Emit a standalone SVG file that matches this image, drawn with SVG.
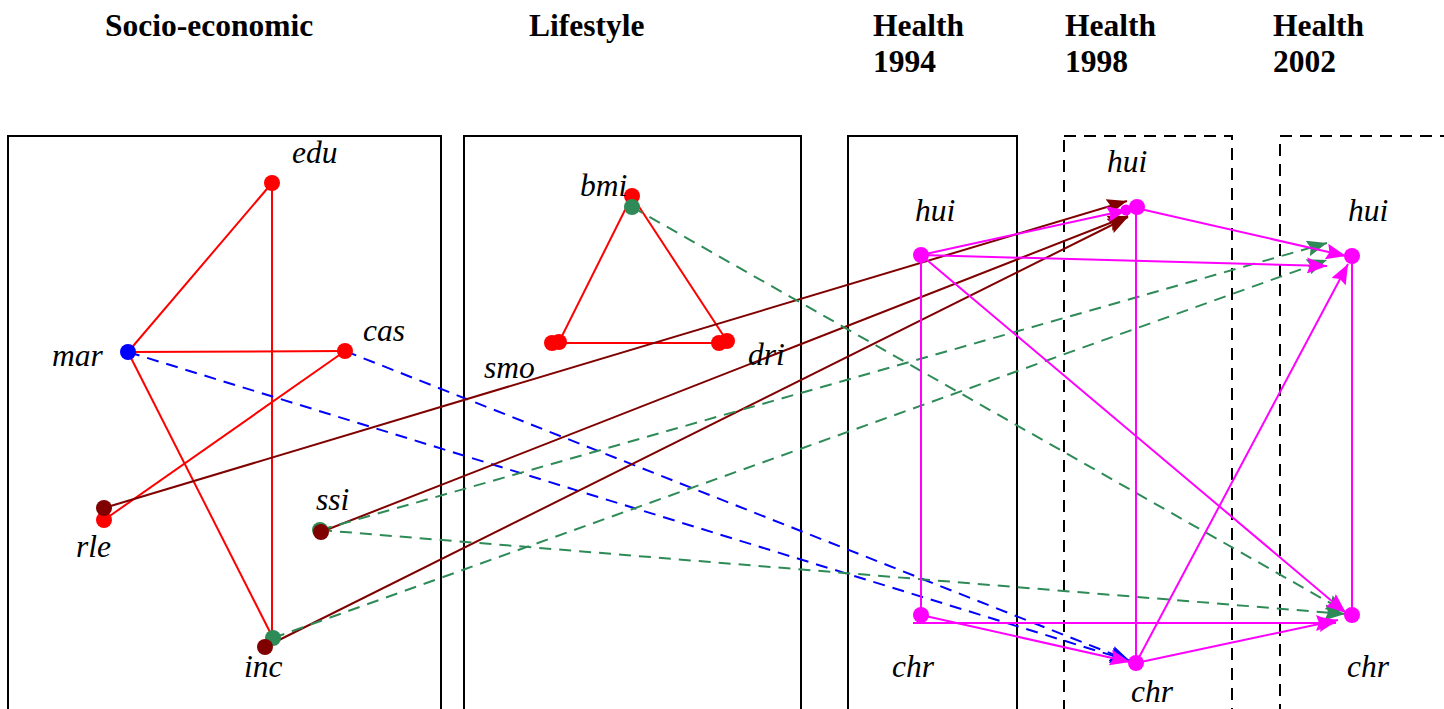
<svg xmlns="http://www.w3.org/2000/svg" width="1444" height="709" viewBox="0 0 1444 709">
  <style>
    .head { font-family: "Liberation Serif", "Times New Roman", serif; font-weight: bold; font-size: 31.5px; fill: #000; }
    .lbl { font-family: "Liberation Serif", "Times New Roman", serif; font-style: italic; font-size: 31.5px; fill: #000; }
    .box { fill: none; stroke: #000; stroke-width: 2; }
    .dbox { fill: none; stroke: #000; stroke-width: 2; stroke-dasharray: 12 8; }
    .red { stroke: #ff0000; stroke-width: 2; fill: none; }
    .mag { stroke: #ff00ff; stroke-width: 2; fill: none; }
    .drk { stroke: #800000; stroke-width: 2; fill: none; }
    .blu { stroke: #0000ff; stroke-width: 2; fill: none; stroke-dasharray: 12 8; }
    .grn { stroke: #2e8b57; stroke-width: 2; fill: none; stroke-dasharray: 12 8; }
  </style>
  <defs>
    <marker id="aMag" viewBox="0 0 20 16" refX="20" refY="8" markerWidth="20" markerHeight="16" markerUnits="userSpaceOnUse" orient="auto">
      <path d="M0,0 L20,8 L0,16 L3,8 Z" fill="#ff00ff"/>
    </marker>
    <marker id="aDrk" viewBox="0 0 20 16" refX="20" refY="8" markerWidth="20" markerHeight="16" markerUnits="userSpaceOnUse" orient="auto">
      <path d="M0,0 L20,8 L0,16 L3,8 Z" fill="#800000"/>
    </marker>
    <marker id="aBlu" viewBox="0 0 20 16" refX="20" refY="8" markerWidth="20" markerHeight="16" markerUnits="userSpaceOnUse" orient="auto">
      <path d="M0,0 L20,8 L0,16 L3,8 Z" fill="#0000ff"/>
    </marker>
    <marker id="aGrn" viewBox="0 0 20 16" refX="20" refY="8" markerWidth="20" markerHeight="16" markerUnits="userSpaceOnUse" orient="auto">
      <path d="M0,0 L20,8 L0,16 L3,8 Z" fill="#2e8b57"/>
    </marker>
  </defs>

  <rect width="1444" height="709" fill="#fff"/>

  <!-- column headings -->
  <g id="headings">
    <text class="head" x="105" y="36">Socio-economic</text>
    <text class="head" x="529" y="36">Lifestyle</text>
    <text class="head" x="873" y="36">Health</text>
    <text class="head" x="873" y="72">1994</text>
    <text class="head" x="1065" y="36">Health</text>
    <text class="head" x="1065" y="72">1998</text>
    <text class="head" x="1273" y="36">Health</text>
    <text class="head" x="1273" y="72">2002</text>
  </g>

  <!-- group frames -->
  <g id="frames">
    <rect class="box" x="8" y="136" width="433" height="600"/>
    <rect class="box" x="464" y="136" width="337" height="600"/>
    <rect class="box" x="848" y="136" width="169" height="600"/>
    <rect class="dbox" x="1064" y="136" width="168" height="600"/>
    <rect class="dbox" x="1280" y="136" width="200" height="600"/>
  </g>

  <!-- connectors -->
  <g id="connectors">
    <!-- socio-economic internal links -->
    <line class="red" x1="128" y1="352" x2="272" y2="183"/>
    <line class="red" x1="272" y1="183" x2="272" y2="640"/>
    <line class="red" x1="128" y1="352" x2="345" y2="351"/>
    <line class="red" x1="345" y1="351" x2="104" y2="520"/>
    <line class="red" x1="128" y1="352" x2="273" y2="638"/>
    <!-- lifestyle internal links -->
    <line class="red" x1="632" y1="196" x2="559" y2="342"/>
    <line class="red" x1="632" y1="196" x2="727" y2="341"/>
    <line class="red" x1="559" y1="343" x2="719" y2="343"/>

    <!-- marital / casual status to chronic 1998 -->
    <line class="blu" x1="128" y1="352" x2="1130" y2="661" marker-end="url(#aBlu)"/>
    <line class="blu" x1="345" y1="351" x2="1130" y2="661" marker-end="url(#aBlu)"/>

    <!-- socio-economic to hui 1998 -->
    <line class="drk" x1="104" y1="508" x2="1127" y2="201" marker-end="url(#aDrk)"/>
    <line class="drk" x1="321" y1="532" x2="1128" y2="216" marker-end="url(#aDrk)"/>
    <line class="drk" x1="265" y1="647" x2="1128" y2="217" marker-end="url(#aDrk)"/>

    <!-- links into health 2002 -->
    <line class="grn" x1="632" y1="207" x2="1346" y2="612" marker-end="url(#aGrn)"/>
    <line class="grn" x1="320" y1="530" x2="1327" y2="243" marker-end="url(#aGrn)"/>
    <line class="grn" x1="273" y1="638" x2="1327" y2="260" marker-end="url(#aGrn)"/>
    <line class="grn" x1="320" y1="530" x2="1345" y2="614" marker-end="url(#aGrn)"/>

    <!-- health transitions -->
    <line class="mag" x1="921" y1="255" x2="921" y2="615"/>
    <line class="mag" x1="921" y1="255" x2="1127" y2="210" marker-end="url(#aMag)"/>
    <line class="mag" x1="921" y1="255" x2="1327" y2="266" marker-end="url(#aMag)"/>
    <line class="mag" x1="921" y1="255" x2="1346" y2="613" marker-end="url(#aMag)"/>
    <line class="mag" x1="921" y1="615" x2="1130" y2="662" marker-end="url(#aMag)"/>
    <line class="mag" x1="913" y1="623" x2="1336" y2="623" marker-end="url(#aMag)"/>
    <line class="mag" x1="1136" y1="208" x2="1136" y2="663"/>
    <line class="mag" x1="1136" y1="208" x2="1346" y2="256" marker-end="url(#aMag)"/>
    <line class="mag" x1="1136" y1="663" x2="1348" y2="264" marker-end="url(#aMag)"/>
    <line class="mag" x1="1136" y1="663" x2="1338" y2="620" marker-end="url(#aMag)"/>
    <line class="mag" x1="1352" y1="256" x2="1352" y2="615"/>
  </g>

  <!-- nodes -->
  <g id="node-edu">
    <circle cx="272" cy="183" r="8" fill="#ff0000"/>
    <text class="lbl" x="292" y="163">edu</text>
  </g>
  <g id="node-mar">
    <circle cx="128" cy="352" r="8" fill="#0000ff"/>
    <text class="lbl" x="52" y="366">mar</text>
  </g>
  <g id="node-cas">
    <circle cx="345" cy="351" r="8" fill="#ff0000"/>
    <text class="lbl" x="363" y="341">cas</text>
  </g>
  <g id="node-rle">
    <circle cx="104" cy="520" r="8" fill="#ff0000"/>
    <circle cx="104" cy="508" r="8" fill="#800000"/>
    <text class="lbl" x="76" y="557">rle</text>
  </g>
  <g id="node-ssi">
    <circle cx="320" cy="530" r="8" fill="#2e8b57"/>
    <circle cx="321" cy="532" r="8" fill="#800000"/>
    <text class="lbl" x="316" y="510">ssi</text>
  </g>
  <g id="node-inc">
    <circle cx="273" cy="638" r="8" fill="#2e8b57"/>
    <circle cx="265" cy="647" r="8" fill="#800000"/>
    <text class="lbl" x="244" y="677">inc</text>
  </g>
  <g id="node-bmi">
    <circle cx="632" cy="196" r="8" fill="#ff0000"/>
    <circle cx="632" cy="207" r="8" fill="#2e8b57"/>
    <text class="lbl" x="580" y="196">bmi</text>
  </g>
  <g id="node-smo">
    <circle cx="552" cy="343" r="8" fill="#ff0000"/>
    <circle cx="559" cy="342" r="8" fill="#ff0000"/>
    <text class="lbl" x="484" y="378">smo</text>
  </g>
  <g id="node-dri">
    <circle cx="719" cy="343" r="8" fill="#ff0000"/>
    <circle cx="727" cy="341" r="8" fill="#ff0000"/>
    <text class="lbl" x="748" y="365">dri</text>
  </g>
  <g id="node-hui1994">
    <circle cx="921" cy="255" r="8" fill="#ff00ff"/>
    <text class="lbl" x="915" y="221">hui</text>
  </g>
  <g id="node-chr1994">
    <circle cx="921" cy="615" r="8" fill="#ff00ff"/>
    <text class="lbl" x="892" y="677">chr</text>
  </g>
  <g id="node-hui1998">
    <circle cx="1126" cy="210" r="5.5" fill="#ff00ff"/>
    <circle cx="1137" cy="207" r="8" fill="#ff00ff"/>
    <text class="lbl" x="1107" y="172">hui</text>
  </g>
  <g id="node-chr1998">
    <circle cx="1136" cy="663" r="8" fill="#ff00ff"/>
    <text class="lbl" x="1131" y="702">chr</text>
  </g>
  <g id="node-hui2002">
    <circle cx="1352" cy="256" r="8" fill="#ff00ff"/>
    <text class="lbl" x="1348" y="221">hui</text>
  </g>
  <g id="node-chr2002">
    <circle cx="1352" cy="615" r="8" fill="#ff00ff"/>
    <text class="lbl" x="1347" y="677">chr</text>
  </g>
</svg>
